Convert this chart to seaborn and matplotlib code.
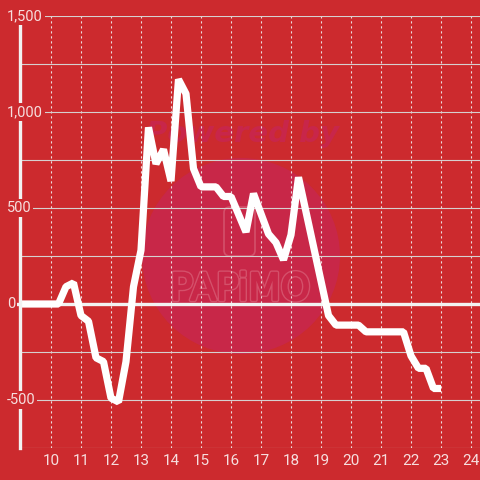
import matplotlib
matplotlib.use("Agg")
import matplotlib.pyplot as plt
import matplotlib.patches as mpatches
import matplotlib.patheffects as pe
import seaborn as sns
import pandas as pd

# ---- data ----
hours = [9.0, 10.25, 10.5, 10.75, 11.0, 11.25, 11.5, 11.75, 12.0, 12.25, 12.5, 12.75,
         13.0, 13.25, 13.5, 13.75, 14.0, 14.25, 14.5, 14.75, 15.0, 15.5, 15.75, 16.0,
         16.5, 16.75, 17.25, 17.5, 17.75, 18.0, 18.25, 19.25, 19.5, 20.25, 20.5, 21.75,
         22.0, 22.25, 22.5, 22.75, 23.0]
values = [0, 0, 90, 110, -60, -90, -280, -300, -490, -510, -300, 90,
          280, 920, 730, 805, 640, 1170, 1095, 705, 610, 610, 560, 560,
          375, 575, 365, 320, 230, 360, 660, -60, -110, -110, -145, -145,
          -270, -335, -335, -440, -440]
x_ticks = list(range(10, 25))
y_label_ticks = [1500, 1000, 500, 0, -500]
y_label_text = ["1,500", "1,000", "500", "0", "-500"]
y_grid = [-750, -500, -250, 0, 250, 500, 750, 1000, 1250, 1500]

BG = "#cc2a2e"
sns.set_style("white", {"axes.facecolor": BG, "figure.facecolor": BG})
plt.rcParams["font.family"] = ["Roboto", "DejaVu Sans"]

fig = plt.figure(figsize=(4.8, 4.8), dpi=100)
ax = fig.add_axes([20 / 480, 32 / 480, 460 / 480, 432 / 480])
ax.set_facecolor(BG)

# watermark (kept below grid and line)
F = fig.transFigure
circ = mpatches.Ellipse((241 / 480, 1 - 256 / 480), 198 / 480, 196 / 480,
                        transform=F, facecolor="#c82748",
                        edgecolor="none", zorder=0.1)
ax.add_patch(circ)
icon = mpatches.FancyBboxPatch((224 / 480, 1 - 256 / 480), 31 / 480, 49 / 480,
                               boxstyle="round,pad=0,rounding_size=0.012",
                               transform=F, facecolor="none",
                               edgecolor="#d4506a", lw=1.2, zorder=0.2)
ax.add_patch(icon)
ax.text(243 / 480, 1 - 134 / 480, "Powered by", transform=F, ha="center", va="center",
        fontsize=21, fontweight="bold", style="italic", color="#c8264a",
        family="DejaVu Sans", zorder=0.2)
t = ax.text(240 / 480, 1 - 290 / 480, "PAPiMO", transform=F, ha="center", va="center",
            fontsize=27, color="#c82748", family="DejaVu Sans", zorder=0.2)
t.set_path_effects([pe.Stroke(linewidth=3.2, foreground="#d4506a"),
                    pe.Stroke(linewidth=1.2, foreground="#c82748"),
                    pe.Normal()])

# grid
ax.set_yticks(y_grid)
ax.set_yticklabels([])
ax.set_xticks(x_ticks)
ax.set_axisbelow(True)
ax.grid(axis="y", color="#d6d0d0", lw=0.8, ls="-")
ax.grid(axis="x", color="#ecdcdc", lw=0.8, ls=(0, (2, 2.5)))

# zero line
ax.axhline(0, xmin=-0.008, color="#f2f2f2", lw=2.4, zorder=1.5, clip_on=False)

df = pd.DataFrame({"hour": hours, "value": values})
sns.lineplot(data=df, x="hour", y="value", ax=ax, color="white", lw=5.2,
             zorder=2, solid_joinstyle="bevel", solid_capstyle="butt")

ax.set_xlim(8.967, 24.3)
ax.set_ylim(-750, 1500)
ax.set_xlabel("")
ax.set_ylabel("")

for s in ["top", "right", "bottom"]:
    ax.spines[s].set_visible(False)
ax.spines["left"].set_color("#f2f2f2")
ax.spines["left"].set_linewidth(2.4)

ax.tick_params(axis="x", length=0, pad=4, labelsize=11, labelcolor="#f6dede")
ax.tick_params(axis="y", length=0)

ytr = ax.get_yaxis_transform()
for v, lab in zip(y_label_ticks, y_label_text):
    ax.text(-13 / 460, v, lab, transform=ytr, ha="left", va="center",
            fontsize=10.5, color="#f6dede", zorder=5, clip_on=False,
            bbox=dict(boxstyle="square,pad=0.12", facecolor=BG, edgecolor="none"))

fig.savefig("out.png", dpi=100, facecolor=BG)
